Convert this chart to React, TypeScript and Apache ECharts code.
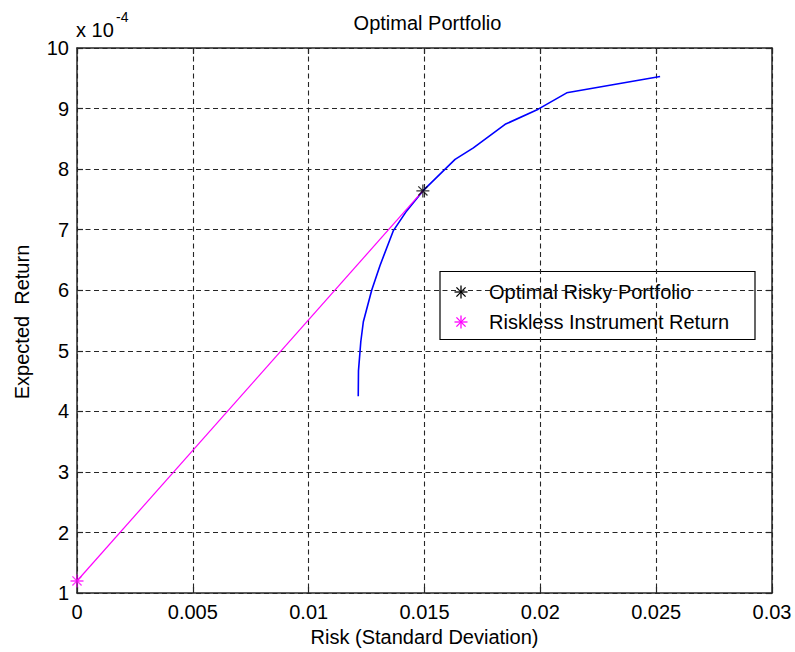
import React, { useEffect, useRef } from "react";
import * as echarts from "echarts";

// ---- data (risk = standard deviation, return in units of 1e-4) ----
const xTickValues = [0, 0.005, 0.01, 0.015, 0.02, 0.025, 0.03];
const yTickValues = [1, 2, 3, 4, 5, 6, 7, 8, 9, 10];

const frontierRisk = [
  0.01214, 0.01215, 0.01225, 0.01236, 0.01272, 0.01308, 0.01365, 0.01423,
  0.01493, 0.01589, 0.01632, 0.01711, 0.01848, 0.01991, 0.02114, 0.02517,
];
const frontierReturn = [
  4.25, 4.67, 5.15, 5.48, 6.0, 6.41, 6.98, 7.31,
  7.64, 8.0, 8.16, 8.35, 8.74, 8.99, 9.26, 9.53,
];

const allocationRisk = [0, 0.01493];
const allocationReturn = [1.2, 7.64];

const optimalRisk = [0.01493];
const optimalReturn = [7.64];
const risklessRisk = [0];
const risklessReturn = [1.2];

const legendLabels = ["Optimal Risky Portfolio", "Riskless Instrument Return"];
const titleText = "Optimal Portfolio";
const xLabelText = "Risk (Standard Deviation)";
const yLabelText = "Expected  Return";

const FONT = '"Liberation Sans", Arial, Helvetica, sans-serif';
const AXIS = "#262626";
const GRIDC = "#262626";
const STAR =
  "path://M6 0L6 12M0 6L12 6M1.76 1.76L10.24 10.24M1.76 10.24L10.24 1.76";

function starLines(cx: number, cy: number, color: string) {
  const r = 6.5;
  const d = 4.6;
  const segs = [
    [cx, cy - r, cx, cy + r],
    [cx - r, cy, cx + r, cy],
    [cx - d, cy - d, cx + d, cy + d],
    [cx - d, cy + d, cx + d, cy - d],
  ];
  return segs.map((s) => ({
    type: "line",
    shape: { x1: s[0], y1: s[1], x2: s[2], y2: s[3] },
    style: { stroke: color, lineWidth: 1.3 },
  }));
}

export default function App() {
  const ref = useRef<HTMLDivElement>(null);
  useEffect(() => {
    if (!ref.current) return;
    const chart = echarts.init(ref.current, undefined, { renderer: "svg" });
    const fmtX = (v: number) => String(parseFloat(v.toFixed(3)));
    const xMin = xTickValues[0];
    const xMax = xTickValues[xTickValues.length - 1];
    const xInt = xTickValues[1] - xTickValues[0];
    const yMin = yTickValues[0];
    const yMax = yTickValues[yTickValues.length - 1];
    const yInt = yTickValues[1] - yTickValues[0];
    const axisCommon = {
      type: "value",
      axisLine: { show: true, onZero: false, lineStyle: { color: AXIS, width: 1.5 } },
      axisTick: { show: true, inside: true, length: 6, lineStyle: { color: AXIS, width: 1.2 } },
    };
    const split = { show: true, lineStyle: { type: [5, 3.5], color: GRIDC, width: 1.1 } };
    const option: any = {
      animation: false,
      backgroundColor: "#ffffff",
      textStyle: { fontFamily: FONT },
      grid: { left: 77, right: 23, top: 48, bottom: 56, show: false },
      xAxis: [
        {
          ...axisCommon,
          position: "bottom",
          min: xMin,
          max: xMax,
          interval: xInt,
          axisLabel: { fontSize: 20, margin: 9, color: "#000", fontFamily: FONT, formatter: fmtX },
          splitLine: split,
          name: xLabelText,
          nameLocation: "middle",
          nameGap: 30,
          nameTextStyle: { fontSize: 20, color: "#000", fontFamily: FONT },
        },
        {
          ...axisCommon,
          position: "top",
          min: xMin,
          max: xMax,
          interval: xInt,
          axisLabel: { show: false },
          splitLine: { show: false },
        },
      ],
      yAxis: [
        {
          ...axisCommon,
          position: "left",
          min: yMin,
          max: yMax,
          interval: yInt,
          axisLabel: { fontSize: 20, margin: 8, color: "#000", fontFamily: FONT },
          splitLine: split,
        },
        {
          ...axisCommon,
          position: "right",
          min: yMin,
          max: yMax,
          interval: yInt,
          axisLabel: { show: false },
          splitLine: { show: false },
        },
      ],
      series: [
        {
          name: "Efficient Frontier",
          type: "line",
          data: frontierRisk.map((x, i) => [x, frontierReturn[i]]),
          showSymbol: false,
          lineStyle: { color: "#0000ff", width: 1.6 },
          z: 3,
        },
        {
          name: "Capital Allocation Line",
          type: "line",
          data: allocationRisk.map((x, i) => [x, allocationReturn[i]]),
          showSymbol: false,
          lineStyle: { color: "#ff00ff", width: 1.2 },
          z: 4,
        },
        {
          name: legendLabels[0],
          type: "scatter",
          clip: false,
          symbol: STAR,
          symbolSize: 13,
          data: optimalRisk.map((x, i) => [x, optimalReturn[i]]),
          itemStyle: { color: "rgba(0,0,0,0)", borderColor: "#000000", borderWidth: 1.3 },
          z: 5,
        },
        {
          name: legendLabels[1],
          type: "scatter",
          clip: false,
          symbol: STAR,
          symbolSize: 13,
          data: risklessRisk.map((x, i) => [x, risklessReturn[i]]),
          itemStyle: { color: "rgba(0,0,0,0)", borderColor: "#ff00ff", borderWidth: 1.3 },
          z: 5,
        },
      ],
      graphic: [
        {
          type: "text",
          x: 427.5,
          y: 23,
          style: {
            text: titleText,
            fontSize: 20,
            fontFamily: FONT,
            fill: "#000",
            align: "center",
            verticalAlign: "middle",
          },
        },
        {
          type: "text",
          x: 22,
          y: 322,
          rotation: Math.PI / 2,
          style: {
            text: yLabelText,
            fontSize: 20,
            fontFamily: FONT,
            fill: "#000",
            align: "center",
            verticalAlign: "middle",
          },
        },
        {
          type: "text",
          x: 76,
          y: 30,
          style: {
            text: "x 10",
            fontSize: 20,
            fontFamily: FONT,
            fill: "#000",
            align: "left",
            verticalAlign: "middle",
          },
        },
        {
          type: "text",
          x: 116,
          y: 17,
          style: {
            text: "-4",
            fontSize: 14,
            fontFamily: FONT,
            fill: "#000",
            align: "left",
            verticalAlign: "middle",
          },
        },
        {
          type: "group",
          z: 20,
          children: [
            {
              type: "rect",
              shape: { x: 440, y: 271.5, width: 315, height: 68 },
              style: { fill: "#ffffff", stroke: "#000000", lineWidth: 1.2 },
            },
            ...starLines(461, 292, "#000000"),
            ...starLines(461, 322, "#ff00ff"),
            {
              type: "text",
              x: 489,
              y: 292,
              style: {
                text: legendLabels[0],
                fontSize: 20,
                fontFamily: FONT,
                fill: "#000",
                align: "left",
                verticalAlign: "middle",
              },
            },
            {
              type: "text",
              x: 489,
              y: 322,
              style: {
                text: legendLabels[1],
                fontSize: 20,
                fontFamily: FONT,
                fill: "#000",
                align: "left",
                verticalAlign: "middle",
              },
            },
          ],
        },
      ],
    };
    chart.setOption(option);
    return () => chart.dispose();
  }, []);
  return (
    <div
      ref={ref}
      style={{ position: "fixed", left: 0, top: 0, width: 795, height: 652, background: "#fff" }}
    />
  );
}
